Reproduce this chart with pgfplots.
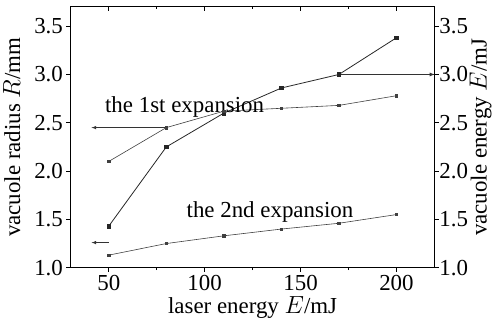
\documentclass[border=0pt]{standalone}
\usepackage{fontspec}
\setmainfont{Liberation Serif}
\usepackage{pgfplots}
\pgfplotsset{compat=1.18}
\begin{document}
\begin{tikzpicture}
\pgfplotsset{
  common/.style={
    scale only axis, width=366pt, height=262pt,
    xmin=30, xmax=220, ymin=1.0, ymax=3.7,
    /pgf/number format/assume math mode=true,
    /pgf/number format/fixed, /pgf/number format/fixed zerofill,
    /pgf/number format/precision=1,
    ytick={1.0,1.5,2.0,2.5,3.0,3.5},
    xtick={50,100,150,200}, minor x tick num=1,
    tick label style={font=\fontsize{23}{25}\selectfont},
    label style={font=\fontsize{23}{25}\selectfont},
    tick align=outside, major tick length=4pt, minor tick length=2.5pt,
    axis line style={line width=1.3pt},
    tick style={line width=0.8pt, black},
  }
}
\begin{axis}[common,
  xticklabel style={/pgf/number format/precision=0, /pgf/number format/fixed zerofill=false},
  ytick pos=left, xtick pos=bottom,
  xlabel={laser energy $E$/mJ},
  ylabel={vacuole radius $R$/mm},
  xlabel style={yshift=1pt},
  ylabel style={yshift=7pt},
  clip=false]
% energy curve
\addplot[black!85, line width=0.8pt, mark=square*, mark size=1.8pt] coordinates {
(50,1.43) (80,2.25) (110,2.60) (140,2.86) (170,3.00) (200,3.38)};
% 1st expansion radius
\addplot[black!75, line width=0.6pt, mark=square*, mark size=1.2pt] coordinates {
(50,2.10) (80,2.45) (110,2.62) (140,2.65) (170,2.68) (200,2.78)};
% 2nd expansion radius
\addplot[black!75, line width=0.6pt, mark=square*, mark size=1.2pt] coordinates {
(50,1.13) (80,1.25) (110,1.33) (140,1.40) (170,1.46) (200,1.55)};
% arrows
\addplot[black!80, line width=0.6pt, -latex] coordinates {(80,2.45) (41,2.45)};
\addplot[black!80, line width=0.6pt, -latex] coordinates {(50,1.26) (41,1.26)};
\addplot[black!80, line width=0.8pt, -latex] coordinates {(170,3.00) (220,3.00)};
\node[font=\fontsize{23}{25}\selectfont, anchor=base west, inner sep=0pt] at (axis cs:48,2.61) {the 1st expansion};
\node[font=\fontsize{23}{25}\selectfont, anchor=base west, inner sep=0pt] at (axis cs:90.5,1.52) {the 2nd expansion};
\end{axis}
\begin{axis}[common,
  axis x line=none, axis y line*=right,
  yticklabel style={xshift=-3pt},
  ylabel={vacuole energy $E$/mJ},
  ylabel style={yshift=5pt},
]
\addplot[draw=none] coordinates {(50,1.5)};
\end{axis}
\begin{axis}[common,
  axis y line=none, axis x line*=top, tick align=inside,
  xticklabels={},
]
\addplot[draw=none] coordinates {(50,1.5)};
\end{axis}
\end{tikzpicture}
\end{document}
